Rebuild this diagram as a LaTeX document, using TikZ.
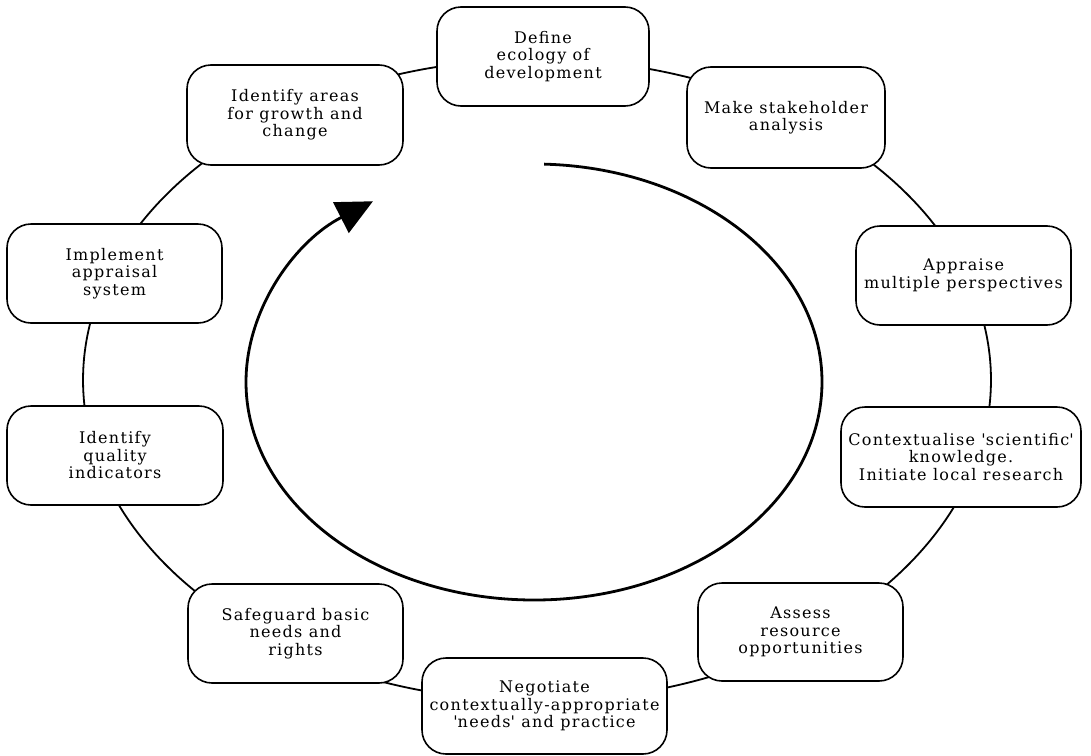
\documentclass[tikz,border=0pt]{standalone}
\usepackage{fontspec}
\newfontfamily\boxfont[LetterSpace=8]{DejaVu Serif}
\usetikzlibrary{arrows.meta,calc,backgrounds}
\begin{document}
\begin{tikzpicture}[x=1pt,y=-1pt,
  stage/.style={draw, line width=1.6pt, rounded corners=24pt, fill=white,
    align=center, inner sep=0pt, font=\boxfont\fontsize{16}{17.5}\selectfont},
  ring/.style={line width=1.8pt},
  cyclearrow/.style={line width=2.8pt, -{Triangle[length=36pt,width=34pt]}}]
\useasboundingbox (0,0) rectangle (1091,755);
\coordinate (c) at (537,380);
\coordinate (ic) at (534,382);

\node[stage, minimum width=212pt, minimum height=99pt] (define) at (543,56.5) {Define\\ecology of\\development};
\node[stage, minimum width=198pt, minimum height=101pt] (make) at (786,117.5) {Make stakeholder\\analysis};
\node[stage, minimum width=215pt, minimum height=99pt] (appraise) at (963.5,275.5) {Appraise\\multiple perspectives};
\node[stage, minimum width=240pt, minimum height=100pt] (context) at (961,457) {Contextualise \textquotesingle scientific\textquotesingle\\knowledge.\\Initiate local research};
\node[stage, minimum width=205pt, minimum height=98pt] (assess) at (800.5,632) {Assess\\resource\\opportunities};
\node[stage, minimum width=245pt, minimum height=96pt] (negotiate) at (544.5,706) {Negotiate\\contextually-appropriate\\\textquotesingle needs\textquotesingle\ and practice};
\node[stage, minimum width=215pt, minimum height=99pt] (safeguard) at (295.5,633.5) {Safeguard basic\\needs and\\rights};
\node[stage, minimum width=216pt, minimum height=99pt] (quality) at (115,455.5) {Identify\\quality\\indicators};
\node[stage, minimum width=215pt, minimum height=99pt] (implement) at (114.5,273.5) {Implement\\appraisal\\system};
\node[stage, minimum width=216pt, minimum height=100pt] (areas) at (295,115) {Identify areas\\for growth and\\change};

\begin{scope}[on background layer]
\fill[white] (0,0) rectangle (1091,755);
\foreach \a/\b in {89/56.2, 56.2/19.1, 19.1/-14.4, -14.4/-53.5, -53.5/-89, -89/-124, -124/-165.8, -165.8/-199.6, -199.6/-237.2, -237.2/-271}
  \draw[ring] ($(c)+(\a:454pt and 321pt)$) arc[start angle=\a, end angle=\b, x radius=454pt, y radius=321pt];
\end{scope}

\draw[cyclearrow] ($(ic)+(88:288pt and 218pt)$) arc[start angle=88, end angle=-236, x radius=288pt, y radius=218pt];
\end{tikzpicture}
\end{document}
